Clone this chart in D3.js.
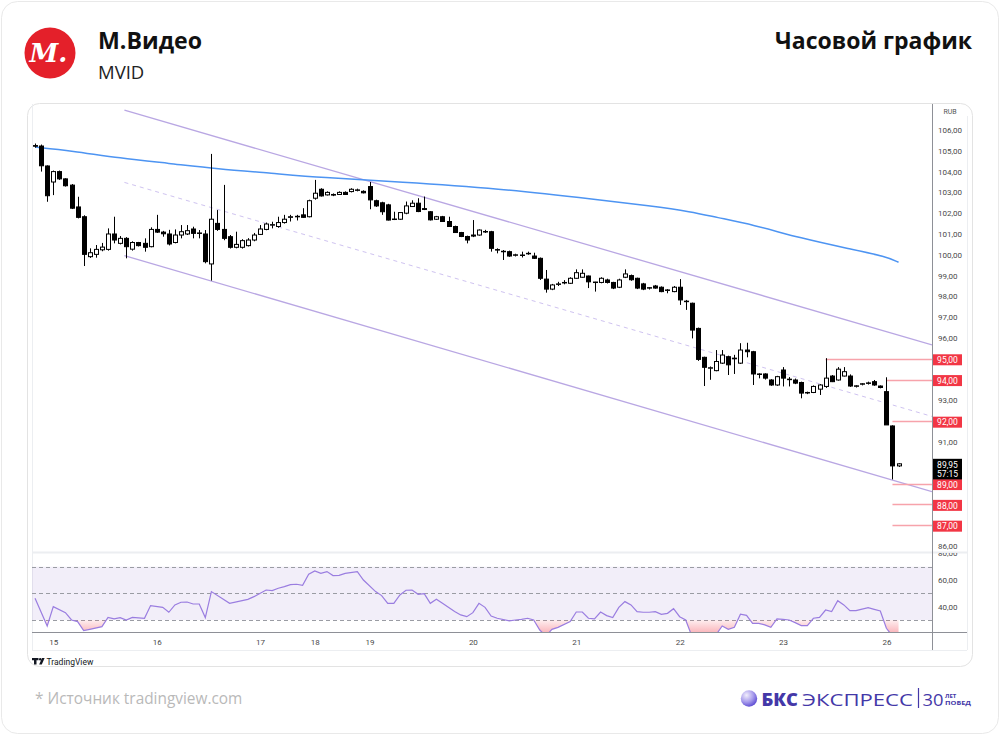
<!DOCTYPE html>
<html>
<head>
<meta charset="utf-8">
<script src="https://cdn.jsdelivr.net/npm/d3@7"></script>
<style>
  body { margin: 0; background: #fff; }
  svg { display: block; font-family: "Open Sans", sans-serif; }
</style>
</head>
<body>
<svg id="chart" width="1000" height="735"></svg>
<script>
// hourly candles
const opens = [105.25,105.23,104.27,103.5,104.0,103.65,103.35,102.3,101.83,99.91,100.02,100.24,100.26,101.0,100.55,100.79,100.27,100.59,100.55,100.39,
  101.22,101.09,101.0,100.59,100.95,101.0,101.24,101.03,101.0,99.56,101.51,101.22,100.87,100.36,100.36,100.44,100.71,100.98,101.22,101.43,
  101.36,101.55,101.8,101.83,101.92,101.83,102.72,103.15,102.88,102.9,102.9,103.0,103.04,103.1,103.05,103.28,102.6,102.5,102.4,101.7,
  101.71,102.0,102.32,102.48,102.22,102.07,101.71,101.83,101.6,101.36,101.07,100.88,100.95,100.95,101.12,101.11,100.25,100.17,100.15,99.98,
  99.98,100.05,99.94,99.83,98.83,98.35,98.58,98.65,98.63,98.87,98.92,98.98,98.67,98.67,98.79,98.67,98.44,98.92,99.0,98.87,
  98.6,98.4,98.5,98.44,98.3,98.23,98.44,97.77,97.67,96.46,95.07,94.55,94.43,94.79,95.1,95.0,94.79,95.42,95.34,94.25,
  94.27,93.98,93.74,94.46,94.0,93.98,93.86,93.36,93.38,93.54,93.67,94.17,93.98,94.17,94.17,93.68,93.78,93.82,93.9,93.69,
  93.42,91.77,89.85];
const highs = [105.35,105.3,104.3,104.05,104.05,103.68,103.4,102.79,101.9,100.31,100.47,100.57,101.27,101.83,100.9,100.85,100.65,100.62,100.79,101.32,
  101.92,101.15,101.2,101.22,101.43,101.43,101.35,101.19,101.19,104.85,102.15,103.36,100.95,101.11,100.75,100.8,101.05,101.43,101.55,101.59,
  101.83,101.92,101.92,101.92,102.24,102.65,103.6,103.2,103.05,102.95,103.05,103.05,103.2,103.18,103.1,103.5,102.65,102.55,102.45,102.07,
  102.05,102.56,102.62,102.72,102.8,102.1,101.87,101.87,101.83,101.4,101.1,100.92,101.67,101.22,101.2,101.15,100.31,100.23,100.2,100.05,
  100.15,100.15,100.1,99.87,99.27,98.6,98.7,98.78,98.92,99.3,99.3,99.0,98.7,98.92,98.85,98.7,98.85,99.3,99.05,98.9,
  98.65,98.45,98.55,98.48,98.35,98.5,98.83,97.83,97.7,96.5,95.1,94.63,95.42,95.42,95.15,95.19,95.75,95.77,95.38,94.3,
  94.3,94.02,94.18,94.6,94.12,94.05,93.9,93.42,93.72,93.78,95.03,94.22,94.6,94.6,94.25,93.73,93.83,93.9,93.98,93.72,
  94.11,91.8,89.98];
const lows = [105.15,104.0,102.55,102.87,103.6,103.28,102.2,101.75,99.46,99.85,99.86,100.17,100.2,100.55,100.5,99.83,100.2,100.4,100.15,100.36,
  101.05,100.87,100.45,100.55,100.79,100.95,100.79,100.79,99.59,98.76,101.15,100.7,100.3,100.31,100.3,100.4,100.65,100.95,101.18,101.27,
  101.3,101.5,101.6,101.65,101.78,101.8,102.65,102.8,102.85,102.82,102.88,102.88,103.0,103.05,102.95,102.19,102.3,101.92,101.65,101.67,
  101.68,101.95,102.3,102.05,102.15,101.65,101.68,101.58,101.34,101.05,100.85,100.55,100.85,100.92,101.05,100.15,100.07,99.75,99.9,99.92,
  99.87,100.0,99.8,98.79,98.18,98.3,98.5,98.58,98.6,98.85,98.9,98.4,98.23,98.63,98.62,98.35,98.4,98.88,98.75,98.35,
  98.3,98.33,98.37,98.2,98.15,98.2,97.59,97.35,95.98,94.9,93.69,93.99,94.4,94.75,94.22,94.27,94.75,95.07,93.74,94.06,
  94.0,93.7,93.7,93.67,93.67,93.78,93.1,93.3,93.35,93.26,93.6,93.88,93.95,94.15,93.65,93.62,93.72,93.76,93.7,93.58,
  93.4,89.2,89.8];
const closes = [105.22,104.28,102.84,104.0,103.65,103.32,102.24,101.8,100.02,100.1,100.26,100.37,101.0,100.71,100.79,100.39,100.59,100.44,100.36,101.22,
  101.09,101.01,100.52,100.95,101.11,101.16,101.03,101.05,99.67,101.71,101.22,100.79,100.36,100.5,100.68,100.71,100.95,101.24,101.48,101.45,
  101.55,101.71,101.83,101.85,101.8,102.6,102.96,102.83,103.0,102.87,103.0,102.9,103.15,103.12,102.98,102.64,102.35,102.07,101.67,101.72,
  102.03,102.35,102.48,102.08,102.18,101.68,101.83,101.6,101.36,101.07,100.88,100.71,100.9,101.19,101.1,100.31,100.23,100.15,99.94,100.0,
  99.99,100.07,99.83,98.87,98.35,98.55,98.6,98.67,98.87,99.14,99.11,98.7,98.69,98.87,98.67,98.4,98.79,99.08,98.8,98.4,
  98.35,98.42,98.4,98.23,98.31,98.44,97.83,97.75,96.38,94.97,94.59,94.57,94.87,95.18,94.71,95.03,95.42,95.34,94.27,94.27,
  94.07,93.74,94.14,94.07,94.02,93.83,93.35,93.38,93.67,93.74,94.07,93.9,94.5,94.38,93.69,93.7,93.8,93.84,93.74,93.62,
  91.82,89.85,89.95];

// moving average (blue), [bar, price]
const maPoints = [[0,105.18],[6,105.0],[14,104.64],[22,104.4],[30,104.13],[39,103.92],[47,103.71],[60,103.51],[76,103.2],
  [93,102.63],[101,102.36],[108,102.07],[112,101.8],[118,101.45],[126,100.79],[134,100.28],[140,99.91],[142,99.64]];

// RSI, [bar, value]
const rsiPoints = [[0,46.3],[2,25.5],[3,40],[5,35.5],[6,30],[7,28.8],[8,22],[9,23],[11,25],[12,32],[13,30.8],[14,31.8],[15,30],[16,32],
  [18,31.3],[19,40.8],[21,39.5],[22,35.8],[23,41.3],[24,43.3],[25,43.5],[26,42],[27,42],[28,31.8],[29,51.3],[32,42.5],[35,45.5],
  [36,47.5],[38,52.5],[39,52],[40,53.8],[41,55],[42,56.5],[43,56.8],[44,56],[45,64.3],[46,66.8],[47,65],[48,66.3],[49,63.3],[50,63.5],
  [51,65],[53,66.3],[54,60],[56,51.3],[57,48.3],[58,42.5],[59,42.5],[60,48.8],[61,52.3],[62,52.5],[63,49.3],[64,49.8],[65,42.5],
  [66,45.5],[67,42.5],[69,36.3],[70,33.8],[71,32.5],[72,35.5],[73,42.5],[74,39.5],[75,33],[76,31.3],[78,29.3],[79,30],[80,30.5],
  [81,31.3],[82,30],[83,22.5],[84,18],[85,23],[86,24.5],[88,28.8],[89,36],[90,36],[91,31.3],[92,30.8],[93,36],[94,33.3],[95,31.8],
  [96,39.5],[97,43.8],[98,41.3],[99,36.3],[100,35.8],[101,35.8],[102,36.3],[103,34.3],[104,35],[105,38.5],[106,32.5],[107,30],
  [108,18],[109,17],[110,15],[111,16],[112,19],[113,25.5],[114,23],[115,24.5],[116,34.3],[117,33.5],[118,27.5],[119,27.5],[120,26.3],
  [121,24.5],[122,30.8],[123,30.5],[124,30],[125,28],[126,25.8],[127,25.8],[128,31.3],[129,32],[130,37.5],[131,36.3],[132,44.5],
  [133,41.3],[134,37],[135,37],[137,39.3],[138,38],[139,36.8],[140,23.8],[141,18],[142,14]];

// price channel: start/end bar and prices of the three lines
const channelBars = [14.7, 147.5];
const channelUpper = [106.95, 95.67];
const channelMid = [103.48, 92.23];
const channelLower = [99.96, 88.61];

// horizontal levels and the bar where each starts
const levels = [95, 94, 92, 89, 88, 87];
const levelBars = [130, 140, 141, 141, 141, 141];

const dayLabels = ["15", "16", "17", "18", "19", "20", "21", "22", "23", "26"];
const dayBars = [3, 20, 37, 46, 55, 72, 89, 106, 123, 140];
const priceTicks = d3.range(86, 107);
const rsiTicks = [40, 60, 80];
const lastPrice = 89.95;
const lastTimer = "57:15";

const fmt = v => d3.format(".2f")(v).replace(".", ",");

const svg = d3.select("#chart");
const defs = svg.append("defs");

// cards
svg.append("rect").attr("x", 1.5).attr("y", 1.5).attr("width", 997).attr("height", 732)
  .attr("rx", 16).attr("fill", "#fff").attr("stroke", "#e9e9e9");
svg.append("rect").attr("x", 27.5).attr("y", 103.5).attr("width", 945).attr("height", 563)
  .attr("rx", 12).attr("fill", "#fff").attr("stroke", "#e3e3e3");

// header
svg.append("circle").attr("cx", 50).attr("cy", 53).attr("r", 25.5).attr("fill", "#e4202a");
svg.append("text").attr("x", 48.5).attr("y", 62).attr("text-anchor", "middle")
  .attr("font-family", "DejaVu Serif").attr("font-style", "italic").attr("font-weight", 700)
  .attr("font-size", 26).attr("fill", "#fff").text("М.");
svg.append("text").attr("x", 98).attr("y", 49).attr("font-size", 22.5).attr("font-weight", 700)
  .attr("fill", "#111").attr("textLength", 104).attr("lengthAdjust", "spacingAndGlyphs").text("М.Видео");
svg.append("text").attr("x", 98).attr("y", 79).attr("font-size", 18.5)
  .attr("fill", "#222").text("MVID");
svg.append("text").attr("x", 972).attr("y", 49).attr("text-anchor", "end").attr("font-size", 22.5)
  .attr("font-weight", 700).attr("fill", "#111").attr("textLength", 197).attr("lengthAdjust", "spacingAndGlyphs")
  .text("Часовой график");

// scales
const x = d3.scaleLinear().domain([-0.5, 147.5]).range([32, 932]);
const y = d3.scaleLinear().domain([85.71, 107.25]).range([552, 104]);
const yR = d3.scaleLinear().domain([21, 80.25]).range([632, 553]);

defs.append("clipPath").attr("id", "clipMain").append("rect")
  .attr("x", 32).attr("y", 104).attr("width", 900).attr("height", 448);
defs.append("clipPath").attr("id", "clipRsi").append("rect")
  .attr("x", 32).attr("y", 553).attr("width", 900).attr("height", 79);
defs.append("clipPath").attr("id", "clipOversold").append("rect")
  .attr("x", 32).attr("y", yR(30)).attr("width", 900).attr("height", 632 - yR(30));
defs.append("clipPath").attr("id", "clipRsiAxis").append("rect")
  .attr("x", 932).attr("y", 553).attr("width", 40).attr("height", 79);

const grad = defs.append("linearGradient").attr("id", "osGrad")
  .attr("gradientUnits", "userSpaceOnUse").attr("x1", 0).attr("x2", 0).attr("y1", yR(30)).attr("y2", 632);
grad.append("stop").attr("offset", 0).attr("stop-color", "#f23645").attr("stop-opacity", 0.08);
grad.append("stop").attr("offset", 1).attr("stop-color", "#f23645").attr("stop-opacity", 0.35);

// chart frame
const frame = svg.append("g").attr("stroke", "#eceef1").attr("fill", "none");
frame.append("line").attr("x1", 32.5).attr("x2", 32.5).attr("y1", 104).attr("y2", 650);
frame.append("line").attr("x1", 32).attr("x2", 967).attr("y1", 552.5).attr("y2", 552.5).attr("stroke-width", 2);
frame.append("line").attr("x1", 32).attr("x2", 967).attr("y1", 650.5).attr("y2", 650.5);
frame.append("line").attr("x1", 967.5).attr("x2", 967.5).attr("y1", 116).attr("y2", 650);

// main pane
const main = svg.append("g").attr("clip-path", "url(#clipMain)");

const chanLine = (prices) => d3.line()(channelBars.map((b, i) => [x(b), y(prices[i])]));
main.append("path").attr("d", chanLine(channelUpper)).attr("fill", "none").attr("stroke", "#b9a7e3").attr("stroke-width", 1.3);
main.append("path").attr("d", chanLine(channelLower)).attr("fill", "none").attr("stroke", "#b9a7e3").attr("stroke-width", 1.3);
main.append("path").attr("d", chanLine(channelMid)).attr("fill", "none").attr("stroke", "#cfc3f0")
  .attr("stroke-width", 1).attr("stroke-dasharray", "4,4");

main.append("path")
  .attr("d", d3.line().x(d => x(d[0])).y(d => y(d[1])).curve(d3.curveBasis)(maPoints))
  .attr("fill", "none").attr("stroke", "#4d94f2").attr("stroke-width", 1.5);

main.selectAll(".level").data(levels).join("line")
  .attr("x1", (d, i) => x(levelBars[i])).attr("x2", 932)
  .attr("y1", d => Math.round(y(d)) + 0.5).attr("y2", d => Math.round(y(d)) + 0.5)
  .attr("stroke", "#f7a3ab").attr("stroke-width", 1.5);

const candles = d3.range(opens.length).map(i => ({ i, o: opens[i], h: highs[i], l: lows[i], c: closes[i] }));
const cx = d => Math.round(x(d.i)) + 0.5;
main.selectAll(".wick").data(candles).join("line")
  .attr("x1", cx).attr("x2", cx)
  .attr("y1", d => y(d.h)).attr("y2", d => y(d.l))
  .attr("stroke", "#000").attr("stroke-width", 1);
main.selectAll(".body").data(candles).join("rect")
  .attr("x", d => cx(d) - 2)
  .attr("y", d => y(Math.max(d.o, d.c)))
  .attr("width", 4)
  .attr("height", d => Math.max(0.5, Math.abs(y(d.o) - y(d.c))))
  .attr("fill", d => d.c >= d.o ? "#fff" : "#000")
  .attr("stroke", "#000").attr("stroke-width", 1);

// RSI pane
const rsiG = svg.append("g").attr("clip-path", "url(#clipRsi)");
rsiG.append("rect").attr("x", 32).attr("width", 900).attr("y", yR(70)).attr("height", yR(30) - yR(70))
  .attr("fill", "rgba(126,87,194,0.1)");
rsiG.selectAll(".band").data([70, 50, 30]).join("line")
  .attr("x1", 32).attr("x2", 932)
  .attr("y1", d => Math.round(yR(d)) + 0.5).attr("y2", d => Math.round(yR(d)) + 0.5)
  .attr("stroke", "#9a9ca3").attr("stroke-dasharray", "4,3");
rsiG.append("g").attr("clip-path", "url(#clipOversold)").append("path")
  .attr("d", d3.area().x(d => x(d[0])).y0(yR(30)).y1(d => yR(d[1]))(rsiPoints))
  .attr("fill", "url(#osGrad)");
rsiG.append("path")
  .attr("d", d3.line().x(d => x(d[0])).y(d => yR(d[1]))(rsiPoints))
  .attr("fill", "none").attr("stroke", "#9a7de0").attr("stroke-width", 1.2);

// price axis
const hidden = new Set([90, ...levels]);
const yAxis = d3.axisRight(y).tickValues(priceTicks.filter(v => !hidden.has(v)))
  .tickSize(0).tickPadding(6).tickFormat(fmt);
const yAxisG = svg.append("g").attr("transform", "translate(932,0)").call(yAxis);
yAxisG.select(".domain").remove();
yAxisG.selectAll("text").attr("font-family", "Roboto").attr("font-size", 8).attr("fill", "#4a4a4a");

const rAxis = d3.axisRight(yR).tickValues(rsiTicks).tickSize(0).tickPadding(6).tickFormat(fmt);
const rAxisG = svg.append("g").attr("clip-path", "url(#clipRsiAxis)")
  .append("g").attr("transform", "translate(932,0)").call(rAxis);
rAxisG.select(".domain").remove();
rAxisG.selectAll("text").attr("font-family", "Roboto").attr("font-size", 8).attr("fill", "#4a4a4a");

// time axis
const xAxis = d3.axisBottom(x).tickValues(dayBars).tickSize(0).tickPadding(7)
  .tickFormat((d, i) => dayLabels[i]);
const xAxisG = svg.append("g").attr("transform", "translate(0,632)").call(xAxis);
xAxisG.select(".domain").remove();
xAxisG.selectAll("text").attr("font-family", "Roboto").attr("font-size", 8).attr("fill", "#4a4a4a");

svg.append("line").attr("x1", 32).attr("x2", 967).attr("y1", 632.5).attr("y2", 632.5).attr("stroke", "#8e9097");
svg.append("line").attr("x1", 932.5).attr("x2", 932.5).attr("y1", 104).attr("y2", 650).attr("stroke", "#8e9097");

// RUB tag
svg.append("text").attr("x", 950).attr("y", 113.5).attr("text-anchor", "middle")
  .attr("font-family", "Roboto").attr("font-size", 7).attr("fill", "#555").text("RUB");

// level tags
const tags = svg.append("g");
tags.selectAll("rect").data(levels).join("rect")
  .attr("x", 933).attr("y", d => y(d) - 4.5).attr("width", 29).attr("height", 11)
  .attr("fill", "#f23645");
tags.selectAll("text").data(levels).join("text")
  .attr("x", 947.5).attr("y", d => y(d) + 4.3).attr("text-anchor", "middle")
  .attr("font-family", "Roboto").attr("font-size", 8.5).attr("fill", "#fff").text(fmt);

// last price tag
const lp = svg.append("g");
lp.append("rect").attr("x", 933).attr("y", y(lastPrice) - 5).attr("width", 29).attr("height", 20.6).attr("fill", "#000");
lp.append("text").attr("x", 947.5).attr("y", y(lastPrice) + 4).attr("text-anchor", "middle")
  .attr("font-family", "Roboto").attr("font-size", 8.5).attr("fill", "#fff").text(fmt(lastPrice));
lp.append("text").attr("x", 947.5).attr("y", y(lastPrice) + 13).attr("text-anchor", "middle")
  .attr("font-family", "Roboto").attr("font-size", 8.5).attr("fill", "#fff").text(lastTimer);

// TradingView mark
const tv = svg.append("g").attr("fill", "#131722");
tv.append("polygon").attr("points", "32,658 38.5,658 38.5,660.3 36.5,660.3 36.5,664.5 34,664.5 34,660.3 32,660.3");
tv.append("circle").attr("cx", 40.2).attr("cy", 659.2).attr("r", 1.2);
tv.append("polygon").attr("points", "42,658 44.6,658 41.8,664.5 39.2,664.5");
svg.append("text").attr("x", 46.5).attr("y", 664.5).attr("font-family", "Roboto").attr("font-size", 8.5)
  .attr("fill", "#131722").text("TradingView");

// footer
svg.append("text").attr("x", 35).attr("y", 704).attr("font-size", 15.4).attr("fill", "#b9b9b9")
  .text("*  Источник tradingview.com");

const sph = defs.append("radialGradient").attr("id", "sphere").attr("cx", "35%").attr("cy", "30%").attr("r", "75%");
sph.append("stop").attr("offset", 0).attr("stop-color", "#f1eefc");
sph.append("stop").attr("offset", 0.55).attr("stop-color", "#a89cec");
sph.append("stop").attr("offset", 1).attr("stop-color", "#5a49d2");
svg.append("circle").attr("cx", 749).attr("cy", 698.5).attr("r", 8.2).attr("fill", "url(#sphere)");
const brand = "#4438a8";
svg.append("text").attr("x", 761.5).attr("y", 706).attr("font-size", 17).attr("font-weight", 800)
  .attr("fill", brand).attr("textLength", 36.5).attr("lengthAdjust", "spacingAndGlyphs").text("БКС");
svg.append("text").attr("x", 802).attr("y", 706).attr("font-size", 17).attr("font-weight", 400)
  .attr("fill", brand).attr("textLength", 111).attr("lengthAdjust", "spacingAndGlyphs").text("ЭКСПРЕСС");
svg.append("line").attr("x1", 918.5).attr("x2", 918.5).attr("y1", 688).attr("y2", 708)
  .attr("stroke", brand).attr("stroke-width", 1.2);
svg.append("text").attr("x", 922.5).attr("y", 706).attr("font-size", 17).attr("font-weight", 400)
  .attr("fill", brand).attr("textLength", 21).attr("lengthAdjust", "spacingAndGlyphs").text("30");
svg.append("text").attr("x", 945).attr("y", 697.5).attr("font-size", 6).attr("font-weight", 700)
  .attr("fill", brand).text("ЛЕТ");
svg.append("text").attr("x", 945).attr("y", 705).attr("font-size", 6).attr("font-weight", 700)
  .attr("fill", brand).attr("textLength", 26).attr("lengthAdjust", "spacingAndGlyphs").text("ПОБЕД");
</script>
</body>
</html>
